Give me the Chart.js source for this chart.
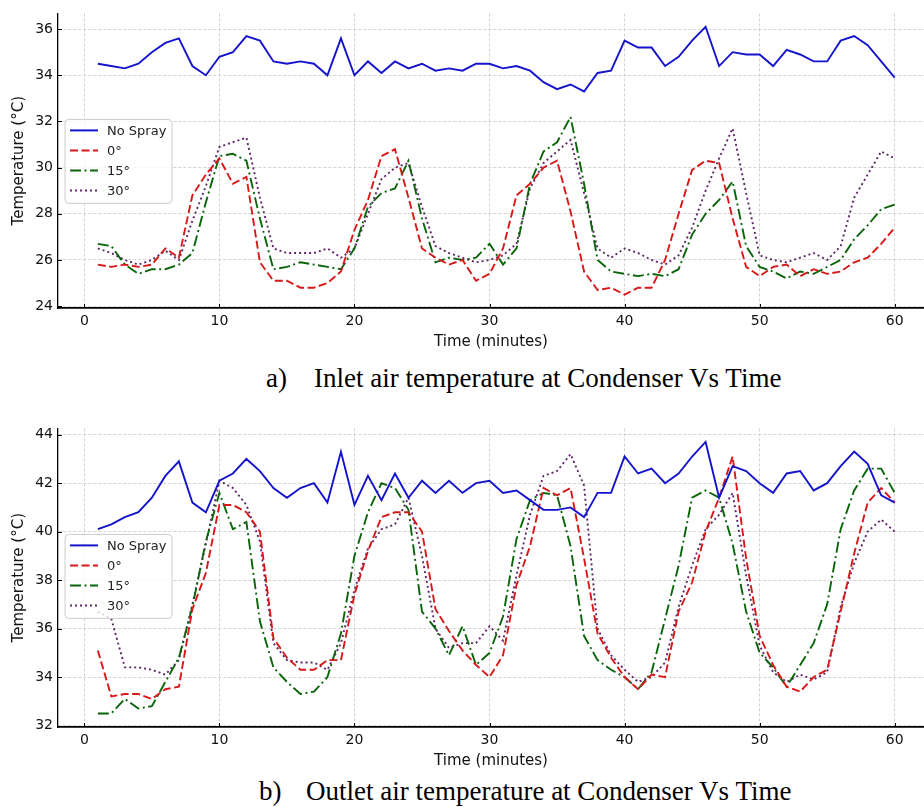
<!DOCTYPE html>
<html>
<head>
<meta charset="utf-8">
<script src="https://cdn.jsdelivr.net/npm/chart.js@4.4.1/dist/chart.umd.min.js"></script>
<style>
  body { margin: 0; background: #fff; width: 924px; height: 807px; overflow: hidden; position: relative; }
  .plot { position: absolute; left: 0; }
  .cap { position: absolute; font-family: "Liberation Serif", "Times New Roman", serif; font-size: 27px; line-height: 30px; color: #000; white-space: nowrap; }
</style>
</head>
<body>
<div class="plot" style="top:0"><canvas id="inlet" width="924" height="355"></canvas></div>
<div class="cap" style="left:266px;top:363px">a)</div>
<div class="cap" style="left:314px;top:363px">Inlet air temperature at Condenser Vs Time</div>
<div class="plot" style="top:415px"><canvas id="outlet" width="924" height="359"></canvas></div>
<div class="cap" style="left:259px;top:776px">b)</div>
<div class="cap" style="left:306px;top:776px">Outlet air temperature at Condenser Vs Time</div>
<script>
const minutes = [1, 2, 3, 4, 5, 6, 7, 8, 9, 10, 11, 12, 13, 14, 15, 16, 17, 18, 19, 20,
  21, 22, 23, 24, 25, 26, 27, 28, 29, 30, 31, 32, 33, 34, 35, 36, 37, 38, 39, 40,
  41, 42, 43, 44, 45, 46, 47, 48, 49, 50, 51, 52, 53, 54, 55, 56, 57, 58, 59, 60];
const seriesNames = ['No Spray', '0°', '15°', '30°'];
const xTicks = [0, 10, 20, 30, 40, 50, 60];

// a) inlet air temperature
const noSprayIn = [34.5, 34.4, 34.3, 34.5, 35.0, 35.4, 35.6, 34.4, 34.0, 34.8,
  35.0, 35.7, 35.5, 34.6, 34.5, 34.6, 34.5, 34.0, 35.6, 34.0,
  34.6, 34.1, 34.6, 34.3, 34.5, 34.2, 34.3, 34.2, 34.5, 34.5,
  34.3, 34.4, 34.2, 33.7, 33.4, 33.6, 33.3, 34.1, 34.2, 35.5,
  35.2, 35.2, 34.4, 34.8, 35.5, 36.1, 34.4, 35.0, 34.9, 34.9,
  34.4, 35.1, 34.9, 34.6, 34.6, 35.5, 35.7, 35.3, 34.6, 33.9];
const zeroIn = [25.8, 25.7, 25.8, 25.7, 25.8, 26.5, 26.1, 28.8, 29.7, 30.4,
  29.3, 29.6, 25.9, 25.1, 25.1, 24.8, 24.8, 25.0, 25.5, 27.3,
  28.6, 30.5, 30.8, 28.7, 26.5, 26.1, 25.8, 26.0, 25.1, 25.4,
  26.5, 28.8, 29.3, 30.0, 30.3, 28.1, 25.5, 24.7, 24.8, 24.5,
  24.8, 24.8, 26.0, 28.0, 29.9, 30.3, 30.2, 27.8, 25.7, 25.3,
  25.7, 25.8, 25.3, 25.6, 25.4, 25.5, 25.9, 26.1, 26.7, 27.4];
const fifteenIn = [26.7, 26.6, 25.8, 25.4, 25.6, 25.6, 25.8, 26.3, 28.5, 30.5,
  30.6, 30.3, 27.8, 25.6, 25.7, 25.9, 25.8, 25.7, 25.6, 26.5,
  28.3, 28.9, 29.1, 30.3, 27.8, 25.9, 26.1, 26.0, 26.1, 26.7,
  25.8, 26.5, 29.3, 30.7, 31.1, 32.2, 29.3, 26.0, 25.5, 25.4,
  25.3, 25.4, 25.3, 25.6, 27.1, 28.0, 28.6, 29.4, 26.6, 25.7,
  25.5, 25.2, 25.5, 25.4, 25.7, 26.0, 26.9, 27.5, 28.2, 28.4];
const thirtyIn = [26.5, 26.3, 26.0, 25.8, 26.0, 26.4, 26.0, 27.7, 29.2, 30.9,
  31.1, 31.3, 28.7, 26.5, 26.3, 26.3, 26.3, 26.5, 26.1, 26.5,
  28.0, 29.5, 30.0, 30.2, 28.3, 26.6, 26.3, 26.1, 25.9, 26.0,
  26.2, 26.7, 29.1, 30.2, 30.7, 31.2, 28.9, 26.5, 26.1, 26.5,
  26.3, 26.0, 25.8, 26.2, 27.4, 29.0, 30.4, 31.7, 28.9, 26.2,
  26.0, 25.9, 26.1, 26.3, 26.0, 26.6, 28.7, 29.7, 30.7, 30.4];
const yTicksIn = [24, 26, 28, 30, 32, 34, 36];

// b) outlet air temperature
const noSprayOut = [40.1, 40.3, 40.6, 40.8, 41.4, 42.3, 42.9, 41.2, 40.8, 42.1,
  42.4, 43.0, 42.5, 41.8, 41.4, 41.8, 42.0, 41.2, 43.3, 41.1,
  42.3, 41.3, 42.4, 41.4, 42.1, 41.6, 42.1, 41.6, 42.0, 42.1,
  41.6, 41.7, 41.3, 40.9, 40.9, 41.0, 40.6, 41.6, 41.6, 43.1,
  42.4, 42.6, 42.0, 42.4, 43.1, 43.7, 41.4, 42.7, 42.5, 42.0,
  41.6, 42.4, 42.5, 41.7, 42.0, 42.7, 43.3, 42.8, 41.5, 41.2];
const zeroOut = [35.1, 33.2, 33.3, 33.3, 33.1, 33.5, 33.6, 36.8, 38.3, 41.1,
  41.1, 40.8, 40.0, 35.6, 34.8, 34.3, 34.3, 34.7, 34.7, 37.4,
  39.2, 40.6, 40.8, 40.8, 40.0, 36.8, 35.9, 35.1, 34.5, 34.0,
  34.9, 37.8, 39.4, 41.8, 41.5, 41.8, 38.9, 35.8, 34.8, 34.0,
  33.5, 34.1, 34.0, 36.7, 37.9, 40.0, 41.4, 43.1, 38.9, 35.7,
  34.5, 33.6, 33.4, 34.0, 34.3, 36.7, 39.1, 41.2, 41.8, 41.2];
const fifteenOut = [32.5, 32.5, 33.1, 32.7, 32.8, 33.8, 34.8, 36.9, 39.6, 41.6,
  40.1, 40.4, 36.3, 34.4, 33.8, 33.3, 33.4, 34.0, 35.8, 39.0,
  40.8, 42.0, 41.8, 40.9, 36.7, 36.0, 34.9, 36.1, 34.5, 35.0,
  36.5, 39.7, 41.3, 41.6, 41.5, 39.4, 35.7, 34.7, 34.3, 34.0,
  33.5, 34.2, 36.4, 38.6, 41.4, 41.7, 41.4, 39.5, 36.7, 35.0,
  34.4, 33.6, 34.5, 35.4, 37.0, 40.1, 41.7, 42.6, 42.6, 41.6];
const thirtyOut = [36.7, 36.4, 34.4, 34.4, 34.3, 34.1, 34.7, 37.0, 39.5, 42.1,
  41.8, 41.1, 39.6, 35.4, 34.7, 34.6, 34.6, 34.3, 35.4, 37.6,
  39.3, 40.1, 40.3, 41.4, 39.0, 36.0, 35.2, 35.4, 35.4, 36.1,
  35.5, 38.2, 40.7, 42.3, 42.5, 43.2, 41.9, 36.0, 34.9, 34.3,
  33.8, 34.0, 34.6, 36.9, 38.6, 40.1, 40.7, 41.6, 38.2, 35.3,
  34.2, 33.8, 34.1, 33.9, 34.2, 36.9, 38.7, 40.0, 40.5, 40.0];
const yTicksOut = [32, 34, 36, 38, 40, 42, 44];

const styles = [
  { color: '#1414cc', dash: [] },
  { color: '#d81818', dash: [8, 3.5] },
  { color: '#0a640a', dash: [11, 3.5, 2, 3.5] },
  { color: '#5e2668', dash: [2, 3] }
];

Chart.defaults.font.family = "'DejaVu Sans', sans-serif";
Chart.defaults.color = '#111';

// legend drawn inside the plot, top-left
const innerLegend = {
  id: 'innerLegend',
  afterDatasetsDraw(chart) {
    const { ctx, chartArea } = chart;
    const bx = chartArea.left + 7, by = chartArea.top + 106, bw = 107, bh = 84;
    ctx.save();
    ctx.beginPath();
    ctx.roundRect(bx, by, bw, bh, 4);
    ctx.fillStyle = 'rgba(255,255,255,0.8)';
    ctx.fill();
    ctx.strokeStyle = '#cccccc';
    ctx.lineWidth = 1;
    ctx.stroke();
    ctx.font = "13px 'DejaVu Sans'";
    ctx.textBaseline = 'middle';
    chart.data.datasets.forEach((ds, i) => {
      const y = by + 11 + i * 20;
      ctx.beginPath();
      ctx.setLineDash(ds.borderDash || []);
      ctx.strokeStyle = ds.borderColor;
      ctx.lineWidth = 2;
      ctx.moveTo(bx + 5, y);
      ctx.lineTo(bx + 33, y);
      ctx.stroke();
      ctx.setLineDash([]);
      ctx.fillStyle = '#222';
      ctx.fillText(ds.label, bx + 42, y + 1);
    });
    ctx.restore();
  }
};

// inward tick marks like the original
const innerTicks = {
  id: 'innerTicks',
  afterDraw(chart) {
    const { ctx, chartArea, scales } = chart;
    ctx.save();
    ctx.strokeStyle = '#000';
    ctx.lineWidth = 1;
    ctx.beginPath();
    scales.x.ticks.forEach(t => {
      const px = Math.round(scales.x.getPixelForValue(t.value)) + 0.5;
      ctx.moveTo(px, chartArea.bottom);
      ctx.lineTo(px, chartArea.bottom - 4);
    });
    scales.y.ticks.forEach(t => {
      const py = Math.round(scales.y.getPixelForValue(t.value)) + 0.5;
      ctx.moveTo(chartArea.left, py);
      ctx.lineTo(chartArea.left + 4, py);
    });
    ctx.stroke();
    ctx.restore();
  }
};

function makeChart(id, values, yMin, yMax, yTicks, padTop) {
  new Chart(document.getElementById(id), {
    type: 'line',
    data: {
      datasets: values.map((arr, i) => ({
        label: seriesNames[i],
        data: arr.map((v, k) => ({ x: minutes[k], y: v })),
        borderColor: styles[i].color,
        borderDash: styles[i].dash,
        borderWidth: 1.9,
        pointRadius: 0,
        tension: 0,
        fill: false
      }))
    },
    options: {
      responsive: false,
      animation: false,
      layout: { padding: { top: padTop, left: 0, right: 0, bottom: 0 } },
      plugins: { legend: { display: false }, tooltip: { enabled: false } },
      scales: {
        x: {
          type: 'linear',
          min: -1.95,
          max: 62.17,
          afterBuildTicks: s => { s.ticks = xTicks.map(v => ({ value: v })); },
          afterFit: s => { s.height = 47; },
          ticks: { font: { size: 14 }, padding: 5, maxRotation: 0 },
          grid: { color: '#c8c8c8', lineWidth: 0.8, drawTicks: false },
          border: { display: true, color: '#000', width: 1.8, dash: [3, 2] },
          title: { display: true, text: 'Time (minutes)', font: { size: 15 }, padding: { top: 0, bottom: 4 } }
        },
        y: {
          min: yMin,
          max: yMax,
          afterBuildTicks: s => { s.ticks = yTicks.map(v => ({ value: v })); },
          afterFit: s => { s.width = 58; },
          ticks: { font: { size: 14 }, padding: 5 },
          grid: { color: '#c8c8c8', lineWidth: 0.8, drawTicks: false },
          border: { display: true, color: '#000', width: 1.3, dash: [3, 2] },
          title: { display: true, text: 'Temperature (°C)', font: { size: 15 }, padding: { top: 10, bottom: 0 } }
        }
      }
    },
    plugins: [innerLegend, innerTicks]
  });
}

makeChart('inlet', [noSprayIn, zeroIn, fifteenIn, thirtyIn], 23.92, 36.68, yTicksIn, 12);
makeChart('outlet', [noSprayOut, zeroOut, fifteenOut, thirtyOut], 31.94, 44.26, yTicksOut, 13);
</script>
</body>
</html>
